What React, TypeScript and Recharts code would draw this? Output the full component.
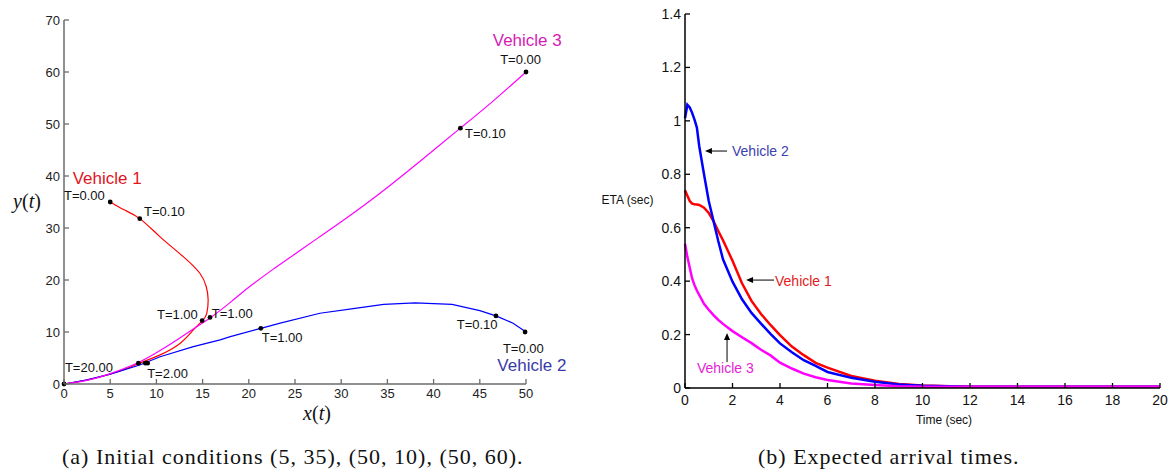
import { ComposedChart, Line, Scatter, XAxis, YAxis, ReferenceLine } from 'recharts'

const SANS = '"Liberation Sans", Arial, sans-serif'
const SERIF = '"Liberation Serif", "Times New Roman", serif'

// ---- (a) trajectories in the x-y plane ----
const vehicle1Path = [
  { x: 5, y: 35 }, { x: 6.5, y: 33.5 }, { x: 8.2, y: 31.8 }, { x: 10.4, y: 28.3 },
  { x: 12.9, y: 24.5 }, { x: 14.7, y: 21.3 }, { x: 15.4, y: 18.7 }, { x: 15.6, y: 16.2 },
  { x: 15.45, y: 13.6 }, { x: 15.0, y: 12.2 }, { x: 14.0, y: 10.4 }, { x: 12.55, y: 7.8 },
  { x: 10.4, y: 5.6 }, { x: 8.6, y: 4.3 }, { x: 6.8, y: 3.0 }, { x: 5, y: 1.9 },
  { x: 2.5, y: 0.8 }, { x: 0, y: 0 },
]
const vehicle2Path = [
  { x: 50, y: 10 }, { x: 48.6, y: 11.7 }, { x: 46.75, y: 13.1 }, { x: 45, y: 14.1 },
  { x: 42, y: 15.3 }, { x: 38, y: 15.6 }, { x: 34.6, y: 15.3 }, { x: 31.3, y: 14.5 },
  { x: 27.7, y: 13.6 }, { x: 23.4, y: 11.7 }, { x: 21.3, y: 10.7 }, { x: 18, y: 9.1 },
  { x: 16.9, y: 8.5 }, { x: 14, y: 7.2 }, { x: 10.4, y: 5.25 }, { x: 8.2, y: 3.65 },
  { x: 5, y: 1.9 }, { x: 2.5, y: 0.8 }, { x: 0, y: 0 },
]
const vehicle3Path = [
  { x: 50, y: 60 }, { x: 46.5, y: 54.5 }, { x: 42.9, y: 49.2 }, { x: 38.5, y: 42.8 },
  { x: 34.2, y: 36.7 }, { x: 30, y: 31.2 }, { x: 27.5, y: 28.1 }, { x: 25, y: 25 },
  { x: 22.5, y: 21.9 }, { x: 20, y: 18.6 }, { x: 18, y: 15.7 }, { x: 15.8, y: 12.7 },
  { x: 14, y: 10.6 }, { x: 12, y: 8.2 }, { x: 10, y: 6 }, { x: 8, y: 4.1 },
  { x: 5, y: 2 }, { x: 2.5, y: 0.7 }, { x: 0, y: 0 },
]
const timeMarks = [
  { x: 5, y: 35 }, { x: 8.2, y: 31.8 }, { x: 50, y: 60 }, { x: 42.9, y: 49.2 },
  { x: 14.95, y: 12.2 }, { x: 15.8, y: 12.8 }, { x: 21.3, y: 10.7 }, { x: 46.75, y: 13.1 },
  { x: 49.9, y: 10 }, { x: 8.05, y: 4 }, { x: 8.8, y: 4 }, { x: 9.05, y: 4 }, { x: 0, y: 0 },
]
const timeNotes = [
  { x: 0, y: 36.3, text: 'T=0.00' }, { x: 8.66, y: 33.1, text: 'T=0.10' },
  { x: 47.2, y: 62.5, text: 'T=0.00' }, { x: 43.4, y: 48.1, text: 'T=0.10' },
  { x: 10.06, y: 13.3, text: 'T=1.00' }, { x: 16.0, y: 13.65, text: 'T=1.00' },
  { x: 0.1, y: 3.1, text: 'T=20.00' }, { x: 9.0, y: 2.1, text: 'T=2.00' },
  { x: 21.4, y: 8.85, text: 'T=1.00' }, { x: 42.5, y: 11.35, text: 'T=0.10' },
  { x: 47.5, y: 6.9, text: 'T=0.00' },
]
const pathTags = [
  { x: 0.94, y: 39.6, text: 'Vehicle 1' },
  { x: 46.9, y: 3.5, text: 'Vehicle 2' },
  { x: 46.4, y: 66, text: 'Vehicle 3' },
]
const xTicksA = [0, 5, 10, 15, 20, 25, 30, 35, 40, 45, 50]
const yTicksA = [0, 10, 20, 30, 40, 50, 60, 70]

// ---- (b) expected arrival times ----
const times = [0, 0.1, 0.2, 0.3, 0.4, 0.5, 0.6, 0.8, 1, 1.2, 1.4, 1.6, 1.8, 2, 2.4, 2.8, 3.2, 3.6, 4, 4.5, 5, 5.5, 6, 7, 8, 9, 10, 12, 14, 16, 18, 20]
const eta1 = [0.74, 0.72, 0.7, 0.69, 0.688, 0.687, 0.685, 0.675, 0.655, 0.625, 0.588, 0.553, 0.515, 0.476, 0.392, 0.326, 0.277, 0.236, 0.198, 0.155, 0.123, 0.094, 0.076, 0.045, 0.027, 0.015, 0.009, 0.005, 0.005, 0.005, 0.005, 0.005]
const eta2 = [1.01, 1.06, 1.05, 1.03, 1.005, 0.975, 0.905, 0.8, 0.7, 0.625, 0.55, 0.482, 0.44, 0.398, 0.332, 0.281, 0.241, 0.203, 0.167, 0.134, 0.104, 0.083, 0.06, 0.038, 0.023, 0.013, 0.008, 0.005, 0.005, 0.005, 0.005, 0.005]
const eta3 = [0.54, 0.49, 0.45, 0.41, 0.385, 0.365, 0.348, 0.315, 0.293, 0.273, 0.255, 0.24, 0.226, 0.213, 0.19, 0.168, 0.143, 0.122, 0.095, 0.073, 0.054, 0.04, 0.03, 0.017, 0.011, 0.007, 0.005, 0.005, 0.005, 0.005, 0.005, 0.005]
const timeTicks = [0, 2, 4, 6, 8, 10, 12, 14, 16, 18, 20]
const etaTicks = [0, 0.2, 0.4, 0.6, 0.8, 1, 1.2, 1.4]
const etaArrows = [
  { from: { t: 1.77, v: 0.887 }, to: { t: 0.84, v: 0.887 } },
  { from: { t: 3.75, v: 0.404 }, to: { t: 2.57, v: 0.404 } },
  { from: { t: 1.77, v: 0.097 }, to: { t: 1.77, v: 0.206 } },
]
const etaTags = [
  { t: 1.98, v: 0.887, text: 'Vehicle 2' },
  { t: 3.79, v: 0.4, text: 'Vehicle 1' },
  { t: 0.505, v: 0.075, text: 'Vehicle 3' },
]

const etaData = times.map((t, i) => ({ t, v1: eta1[i], v2: eta2[i], v3: eta3[i] }))

const tagColorsA: Record<string, string> = { 'Vehicle 1': '#e0141e', 'Vehicle 2': '#3a3aa8', 'Vehicle 3': '#d41cb4' }
const tagColorsB: Record<string, string> = { 'Vehicle 1': '#e31b1b', 'Vehicle 2': '#4040b0', 'Vehicle 3': '#e424d4' }

type TickOpts = { side: 'left' | 'bottom'; gap: number; stroke: string; size: number; fill: string }

// MATLAB-style ticks: mark points into the plot, label sits outside
const inwardTick = (o: TickOpts) => (p: any) => {
  const { x, y, payload } = p
  if (o.side === 'left') {
    const ax = x + o.gap
    return (
      <g>
        <line x1={ax} y1={y} x2={ax + 5} y2={y} stroke={o.stroke} strokeWidth={1.3} />
        <text x={x} y={y} textAnchor="end" dominantBaseline="central" fontFamily={SANS} fontSize={o.size} fill={o.fill}>
          {payload.value}
        </text>
      </g>
    )
  }
  const ay = y - o.gap
  return (
    <g>
      <line x1={x} y1={ay} x2={x} y2={ay - 5} stroke={o.stroke} strokeWidth={1.3} />
      <text x={x} y={y} textAnchor="middle" dominantBaseline="central" fontFamily={SANS} fontSize={o.size} fill={o.fill}>
        {payload.value}
      </text>
    </g>
  )
}

const mathLabel = (v: string, dx: number, dy: number) => (props: any) => {
  const vb = props.viewBox
  return (
    <text x={vb.x + dx} y={vb.y + dy} textAnchor="middle" dominantBaseline="central" fontFamily={SERIF} fontSize={20} fill="#111">
      <tspan fontStyle="italic">{v}</tspan>(<tspan fontStyle="italic">t</tspan>)
    </text>
  )
}

const plainLabel = (s: string, dx: number, dy: number) => (props: any) => {
  const vb = props.viewBox
  return (
    <text x={vb.x + dx} y={vb.y + dy} textAnchor="middle" dominantBaseline="central" fontFamily={SANS} fontSize={12} fill="#111">
      {s}
    </text>
  )
}

const Arrow = (p: any) => {
  const { x1, y1, x2, y2 } = p
  const ang = Math.atan2(y2 - y1, x2 - x1)
  const L = 7
  const W = 3
  const bx = x2 - L * Math.cos(ang)
  const by = y2 - L * Math.sin(ang)
  const nx = -Math.sin(ang) * W
  const ny = Math.cos(ang) * W
  return (
    <g>
      <line x1={x1} y1={y1} x2={bx} y2={by} stroke="#000" strokeWidth={1} />
      <polygon points={`${x2},${y2} ${bx + nx},${by + ny} ${bx - nx},${by - ny}`} fill="#000" />
    </g>
  )
}

function TrajectoryChart() {
  const axisA = { stroke: '#6b6b6b', strokeWidth: 1.5 }
  return (
    <ComposedChart width={580} height={430} margin={{ top: 20, right: 54, bottom: 0, left: 0 }}>
      <XAxis
        type="number"
        dataKey="x"
        domain={[0, 50]}
        ticks={xTicksA}
        height={46}
        axisLine={axisA}
        tickLine={false}
        tickSize={0}
        tickMargin={9}
        tick={inwardTick({ side: 'bottom', gap: 9, stroke: '#6b6b6b', size: 13, fill: '#222' })}
        label={mathLabel('x', 253, 29)}
      />
      <YAxis
        type="number"
        domain={[0, 70]}
        ticks={yTicksA}
        width={64}
        axisLine={axisA}
        tickLine={false}
        tickSize={0}
        tickMargin={4}
        tick={inwardTick({ side: 'left', gap: 4, stroke: '#6b6b6b', size: 13, fill: '#222' })}
        label={mathLabel('y', 27, 181)}
      />
      <Line data={vehicle1Path} dataKey="y" type="natural" stroke="#ff0000" strokeWidth={1.2} dot={false} isAnimationActive={false} />
      <Line data={vehicle2Path} dataKey="y" type="linear" stroke="#0000ff" strokeWidth={1.2} dot={false} isAnimationActive={false} />
      <Line data={vehicle3Path} dataKey="y" type="natural" stroke="#ff00ff" strokeWidth={1.2} dot={false} isAnimationActive={false} />
      <Scatter
        data={timeMarks}
        dataKey="y"
        isAnimationActive={false}
        shape={(p: any) => <circle cx={p.cx} cy={p.cy} r={2.4} fill="#000" />}
      />
      <Scatter
        data={timeNotes}
        dataKey="y"
        isAnimationActive={false}
        shape={(p: any) => (
          <text x={p.cx} y={p.cy} dominantBaseline="central" fontFamily={SANS} fontSize={13} fill="#111">
            {p.payload.text}
          </text>
        )}
      />
      <Scatter
        data={pathTags}
        dataKey="y"
        isAnimationActive={false}
        shape={(p: any) => (
          <text x={p.cx} y={p.cy} dominantBaseline="central" fontFamily={SANS} fontSize={17} fill={tagColorsA[p.payload.text]}>
            {p.payload.text}
          </text>
        )}
      />
    </ComposedChart>
  )
}

function EtaChart() {
  const axisB = { stroke: '#000', strokeWidth: 1.5 }
  return (
    <ComposedChart width={592} height={430} data={etaData} margin={{ top: 14, right: 12, bottom: 0, left: 0 }}>
      <XAxis
        type="number"
        dataKey="t"
        domain={[0, 20]}
        ticks={timeTicks}
        height={42}
        axisLine={axisB}
        tickLine={false}
        tickSize={0}
        tickMargin={12}
        tick={inwardTick({ side: 'bottom', gap: 12, stroke: '#000', size: 14, fill: '#111' })}
        label={plainLabel('Time (sec)', 259, 32)}
      />
      <YAxis
        type="number"
        domain={[0, 1.4]}
        ticks={etaTicks}
        width={105}
        axisLine={axisB}
        tickLine={false}
        tickSize={0}
        tickMargin={4}
        tick={inwardTick({ side: 'left', gap: 4, stroke: '#000', size: 14, fill: '#111' })}
        label={plainLabel('ETA (sec)', 47.5, 186)}
      />
      <Line dataKey="v1" type="linear" stroke="#ff0000" strokeWidth={2.5} dot={false} isAnimationActive={false} />
      <Line dataKey="v2" type="linear" stroke="#0000ff" strokeWidth={2.5} dot={false} isAnimationActive={false} />
      <Line dataKey="v3" type="linear" stroke="#ff00ff" strokeWidth={2.5} dot={false} isAnimationActive={false} />
      {etaArrows.map((a, i) => (
        <ReferenceLine
          key={i}
          segment={[{ x: a.from.t, y: a.from.v }, { x: a.to.t, y: a.to.v }]}
          shape={(p: any) => <Arrow {...p} />}
        />
      ))}
      <Scatter
        data={etaTags.map((d) => ({ t: d.t, v: d.v, text: d.text }))}
        dataKey="v"
        isAnimationActive={false}
        shape={(p: any) => (
          <text x={p.cx} y={p.cy} dominantBaseline="central" fontFamily={SANS} fontSize={14} fill={tagColorsB[p.payload.text]}>
            {p.payload.text}
          </text>
        )}
      />
    </ComposedChart>
  )
}

export default function App() {
  const caption = {
    position: 'absolute' as const,
    top: 445,
    fontFamily: SERIF,
    fontSize: 22,
    letterSpacing: 1,
    lineHeight: '24px',
    color: '#111',
    whiteSpace: 'nowrap' as const,
  }
  return (
    <div style={{ position: 'absolute', left: 0, top: 0, width: 1172, height: 472, background: '#fff', overflow: 'hidden' }}>
      <div style={{ position: 'absolute', left: 0, top: 0 }}>
        <TrajectoryChart />
      </div>
      <div style={{ position: 'absolute', left: 580, top: 0 }}>
        <EtaChart />
      </div>
      <div style={{ ...caption, left: 62 }}>(a) Initial conditions (5, 35), (50, 10), (50, 60).</div>
      <div style={{ ...caption, left: 758 }}>(b) Expected arrival times.</div>
    </div>
  )
}
